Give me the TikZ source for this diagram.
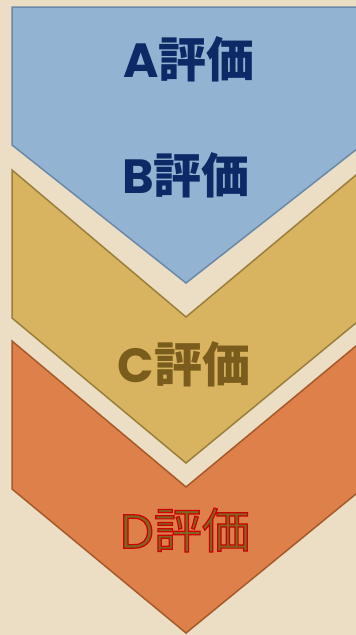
\documentclass[tikz,border=0pt]{standalone}
\usepackage{fontspec}
\newfontfamily\jp{Noto Sans CJK JP}
\newfontfamily\pop{Poppins}
\definecolor{bg}{HTML}{EBDEC4}
\definecolor{bluefill}{HTML}{93B3D2}
\definecolor{bluedraw}{HTML}{6A89A8}
\definecolor{goldfill}{HTML}{D8B460}
\definecolor{golddraw}{HTML}{9A7E3C}
\definecolor{orangefill}{HTML}{DE8049}
\definecolor{orangedraw}{HTML}{A65A2A}
\definecolor{navytext}{HTML}{0E2A66}
\definecolor{browntext}{HTML}{7A5C1C}
\definecolor{olivetext}{HTML}{7F6520}
\newcommand{\outlinedtext}[1]{\special{pdf:literal direct 2 Tr 1.2 w 0.8 0 0 RG}#1\special{pdf:literal direct 0 Tr}}
\tikzset{
  chev/.style={line width=1.5pt, line join=miter},
  bluechev/.style={chev, fill=bluefill, draw=bluedraw},
  goldchev/.style={chev, fill=goldfill, draw=golddraw},
  orangechev/.style={chev, fill=orangefill, draw=orangedraw},
  label/.style={font=\jp\fontsize{48}{52}\selectfont, inner sep=0pt, anchor=center}
}
\begin{document}
\begin{tikzpicture}[x=1pt,y=-1pt]
\useasboundingbox (0,0) rectangle (356,635);
\fill[bg] (0,0) rectangle (356,635);
\begin{scope}
\clip (0,0) rectangle (356,635);
\draw[bluechev] (12,7) -- (362,7) -- (362,145) -- (186,283) -- (12,145) -- cycle;
\draw[goldchev] (12,170) -- (186,317) -- (362,170) -- (362,318) -- (186,463) -- (12,318) -- cycle;
\draw[orangechev] (12,341) -- (186,487) -- (362,341) -- (362,489) -- (186,633) -- (12,489) -- cycle;
\end{scope}
\node[label, text=navytext] (a) at (189,59) {{\pop\bfseries A}\bfseries 評価};
\node[label, text=navytext] (b) at (186,175) {{\pop\bfseries B}\bfseries 評価};
\node[label, text=browntext] (c) at (184,364) {{\pop\bfseries C}\bfseries 評価};
\node[label, text=olivetext] (d) at (185,530) {\outlinedtext{{\pop D}評価}};
\end{tikzpicture}
\end{document}
